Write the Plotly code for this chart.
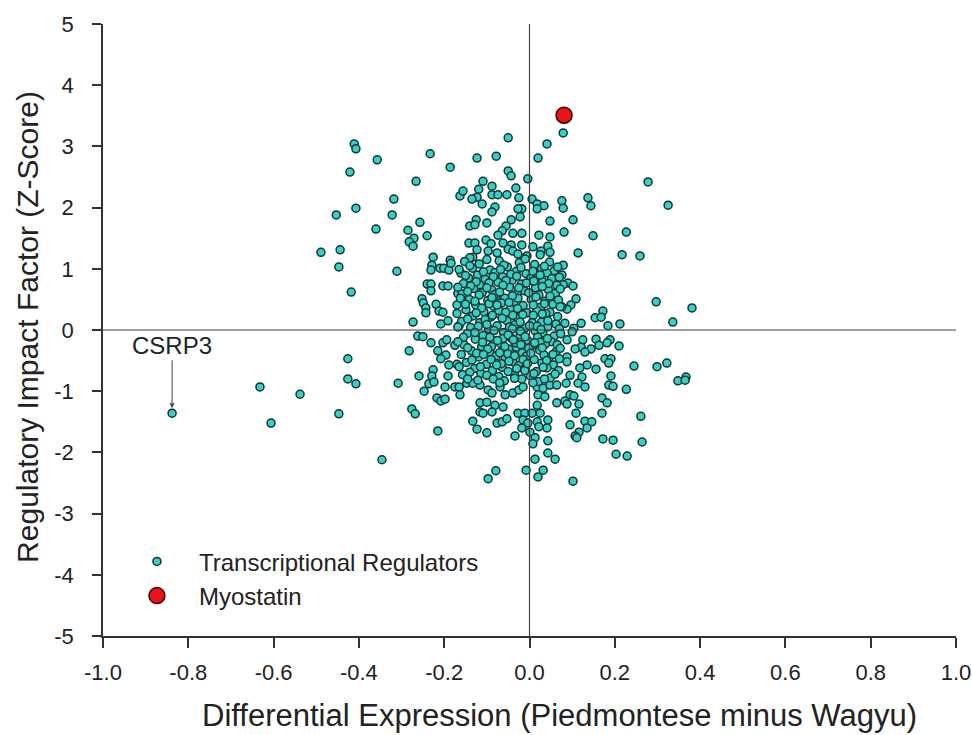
import plotly.graph_objects as go

# ---- data ----
# sparse / outer points
sparse_x = [
    -0.838, -0.632, -0.538, -0.606, -0.447, -0.426, -0.426, -0.407,
    -0.411, -0.407, -0.421, -0.407, -0.453, -0.489, -0.444, -0.447, -0.418,
    -0.357, -0.233, -0.186, -0.266, -0.318, -0.322, -0.360, -0.257, -0.285, -0.240,
    -0.271, -0.282, -0.273, -0.226, -0.186, -0.163,
    -0.050, -0.123, -0.078, 0.020, 0.041, -0.050, -0.043, -0.004, -0.109, -0.088,
    -0.156, -0.119, -0.032, -0.123, -0.135, -0.088, -0.074, -0.053, -0.025, -0.111,
    -0.018, -0.027, -0.081, -0.088, 0.006, 0.018, 0.034, 0.018, -0.022, -0.043,
    -0.125, -0.140, -0.100, -0.055, -0.128, 0.048, -0.064, -0.074, -0.039, -0.018,
    0.022, 0.048, -0.142, -0.128, -0.102, -0.090, -0.062, -0.043, -0.018, 0.008,
    0.027, 0.043, 0.048, -0.123, -0.097, -0.076, -0.050, -0.039, -0.027, -0.006,
    0.025, -0.133, -0.140,
    0.079, 0.278, 0.076, 0.079, 0.137, 0.144, 0.325, 0.102, 0.081, 0.149, 0.227,
    0.114, 0.217, 0.259,
    -0.311, -0.229, -0.231, -0.210, -0.201, -0.189, -0.184, -0.240, -0.231, -0.231,
    -0.203, -0.191, -0.168, -0.252, -0.249, -0.243, -0.243, -0.219, -0.212, -0.203,
    -0.170, -0.273, -0.208, -0.191, -0.165, -0.262, -0.250, -0.231, -0.203, -0.194,
    -0.175, -0.282, -0.215, -0.196, -0.208, -0.189, -0.170, -0.226, -0.229, -0.259,
    -0.191,
    0.079, 0.076, 0.090, 0.102, 0.079, 0.109, 0.097, 0.088, 0.076, 0.172, 0.154,
    0.168, 0.121, 0.083, 0.184, 0.212, 0.297, 0.381, 0.336, 0.104, 0.100, 0.088,
    0.125, 0.156, 0.189, 0.182, 0.163, 0.144, 0.121, 0.107, 0.210, 0.130, 0.088,
    0.088, 0.177, 0.191, 0.186, 0.135, 0.118, 0.156, 0.245, 0.299, 0.322, 0.367,
    0.348, 0.191, 0.095, 0.123,
    0.086, 0.114, 0.130, 0.186, 0.196, 0.227, 0.365, 0.095, 0.104, 0.083, 0.088,
    0.116, 0.170, 0.182, 0.109, 0.170, 0.261, 0.130, 0.146, 0.135, 0.095, 0.116,
    0.107, 0.111, 0.172, 0.196, 0.264, 0.203, 0.229, 0.102,
    -0.308, -0.247, -0.236, -0.224, -0.198, -0.175, -0.165, -0.163, -0.217, -0.208,
    -0.198, -0.276, -0.268, -0.215, -0.346,
    -0.116, -0.147, -0.133, -0.097, -0.088, -0.069, -0.057, -0.039, -0.025, -0.015,
    0.018, 0.032, 0.048, 0.064, 0.020, 0.036, -0.116, -0.100, -0.081, -0.062,
    0.018, 0.064, -0.116, -0.088, -0.109, -0.027, -0.011, 0.006, 0.025, -0.133,
    -0.076, -0.064, -0.053, -0.015, -0.004, 0.018, 0.043, 0.041, 0.022, -0.018,
    0.001, -0.123, -0.100, -0.034, 0.013, 0.008, 0.043, 0.043, 0.060, 0.013,
    -0.008, 0.032, 0.020, -0.079, -0.097,
]
sparse_y = [
    -1.36, -0.93, -1.05, -1.52, -1.37, -0.47, -0.80, -0.88,
    3.04, 2.96, 2.58, 1.99, 1.88, 1.27, 1.31, 1.03, 0.62,
    2.78, 2.88, 2.66, 2.43, 2.14, 1.88, 1.65, 1.76, 1.63, 1.54,
    1.50, 1.44, 1.37, 1.19, 1.14, 2.19,
    3.14, 2.81, 2.84, 2.81, 3.04, 2.60, 2.52, 2.47, 2.43, 2.35,
    2.27, 2.30, 2.32, 2.17, 2.14, 2.21, 2.21, 2.21, 2.16, 2.06,
    1.98, 1.98, 2.01, 1.93, 2.14, 2.06, 2.03, 1.98, 1.85, 1.80,
    1.80, 1.70, 1.75, 1.70, 1.72, 1.78, 1.62, 1.55, 1.58, 1.58,
    1.55, 1.52, 1.42, 1.42, 1.47, 1.41, 1.42, 1.39, 1.39, 1.36,
    1.29, 1.37, 1.27, 1.31, 1.29, 1.26, 1.32, 1.29, 1.24, 1.21,
    1.23, 1.19, 1.18,
    3.22, 2.42, 2.11, 1.99, 2.16, 2.03, 2.04, 1.80, 1.60, 1.54, 1.60,
    1.26, 1.23, 1.21,
    0.96, 1.06, 0.98, 1.01, 1.01, 0.98, 1.09, 0.75, 0.75, 0.64,
    0.72, 0.72, 0.60, 0.51, 0.44, 0.36, 0.28, 0.42, 0.31, 0.29,
    0.41, 0.13, 0.10, 0.15, 0.07, -0.10, -0.11, -0.21, -0.21, -0.16,
    -0.25, -0.34, -0.34, -0.41, -0.47, -0.57, -0.56, -0.65, -0.75, -0.75,
    -0.75,
    1.06, 0.90, 0.77, 0.72, 0.74, 0.51, 0.41, 0.34, 0.38, 0.31, 0.20,
    0.21, 0.11, 0.11, 0.07, 0.10, 0.46, 0.36, 0.13, 0.03, -0.03, -0.16,
    -0.16, -0.15, -0.16, -0.21, -0.25, -0.31, -0.28, -0.31, -0.26, -0.36, -0.44,
    -0.52, -0.47, -0.47, -0.54, -0.57, -0.62, -0.64, -0.59, -0.60, -0.54, -0.77,
    -0.83, -0.75, -0.74, -0.77,
    -0.87, -0.87, -0.93, -0.90, -0.92, -0.97, -0.82, -1.06, -1.08, -1.16, -1.21,
    -1.21, -1.11, -1.19, -1.36, -1.36, -1.41, -1.49, -1.50, -1.60, -1.55, -1.67,
    -1.73, -1.76, -1.78, -1.80, -1.83, -2.03, -2.06, -2.47,
    -0.87, -1.00, -0.88, -0.85, -0.93, -0.93, -0.93, -1.06, -1.11, -1.16,
    -1.13, -1.29, -1.37, -1.65, -2.12,
    -0.90, -0.87, -0.87, -0.98, -1.03, -0.93, -1.06, -1.03, -0.98, -0.93,
    -0.93, -0.95, -0.90, -0.90, -1.06, -1.09, -1.19, -1.18, -1.23, -1.26,
    -1.23, -1.19, -1.34, -1.34, -1.36, -1.36, -1.36, -1.36, -1.36, -1.49,
    -1.52, -1.50, -1.45, -1.47, -1.52, -1.50, -1.47, -1.60, -1.58, -1.60,
    -1.67, -1.62, -1.68, -1.73, -1.76, -1.86, -1.81, -2.01, -2.11, -2.11,
    -2.29, -2.29, -2.40, -2.30, -2.43,
]

# dense core of the cloud (estimated)
core_x = [
    -0.152, -0.118, -0.071, -0.024, 0.012, 0.047,
    -0.134, -0.093, -0.052, -0.031, 0.028, 0.058,
    -0.161, -0.122, -0.081, -0.008, 0.019, 0.041,
    -0.143, -0.104, -0.063, -0.041, 0.003, 0.052,
    -0.155, -0.117, -0.074, -0.019, 0.031, 0.064,
    -0.131, -0.089, -0.047, -0.012, 0.014, 0.044,
    -0.158, -0.111, -0.079, -0.029, 0.022, 0.061,
    -0.141, -0.098, -0.058, -0.036, 0.004, 0.036,
    -0.126, -0.084, -0.066, -0.015, 0.026, 0.055,
    -0.149, -0.107, -0.045, -0.006, 0.017, 0.048,
    -0.133, -0.091, -0.071, -0.027, 0.009, 0.039,
    -0.159, -0.117, -0.053, -0.034, 0.028, 0.062,
    -0.138, -0.096, -0.076, -0.011, 0.013, 0.043,
    -0.146, -0.109, -0.061, -0.022, 0.031, 0.058,
    -0.127, -0.083, -0.043, -0.004, 0.019, 0.051,
    -0.154, -0.112, -0.068, -0.031, 0.007, 0.037,
    -0.136, -0.093, -0.049, -0.017, 0.024, 0.063,
    -0.119, -0.078, -0.057, -0.008, 0.011, 0.046,
    -0.148, -0.101, -0.039, -0.025, 0.029, 0.056,
    -0.129, -0.087, -0.064, -0.013, 0.016, 0.041,
    -0.157, -0.114, -0.072, -0.035, 0.002, 0.049,
    -0.121, -0.059, -0.018, 0.021,
    -0.047, -0.021, 0.006, -0.062, -0.033, -0.002, 0.018, -0.072, -0.039, -0.015,
    0.034, -0.051, -0.089, -0.104, -0.027, 0.009, -0.066, -0.011, 0.038, -0.082,
    -0.007, -0.044, -0.124, -0.095, 0.025,
]
core_y = [
    1.12, 1.08, 1.13, 1.10, 1.07, 1.11,
    1.01, 0.98, 1.03, 0.96, 1.00, 0.97,
    0.93, 0.90, 0.94, 0.92, 0.88, 0.93,
    0.85, 0.83, 0.87, 0.81, 0.85, 0.84,
    0.76, 0.74, 0.78, 0.75, 0.79, 0.73,
    0.68, 0.66, 0.70, 0.64, 0.69, 0.66,
    0.59, 0.61, 0.56, 0.60, 0.57, 0.60,
    0.50, 0.48, 0.52, 0.46, 0.50, 0.47,
    0.41, 0.39, 0.44, 0.40, 0.37, 0.42,
    0.33, 0.30, 0.34, 0.28, 0.32, 0.29,
    0.23, 0.21, 0.26, 0.20, 0.24, 0.19,
    0.14, 0.12, 0.15, 0.09, 0.13, 0.10,
    0.04, 0.02, 0.07, 0.03, -0.01, 0.05,
    -0.06, -0.09, -0.04, -0.08, -0.05, -0.10,
    -0.15, -0.18, -0.13, -0.17, -0.12, -0.19,
    -0.24, -0.27, -0.22, -0.28, -0.25, -0.23,
    -0.34, -0.36, -0.31, -0.37, -0.33, -0.35,
    -0.44, -0.42, -0.47, -0.43, -0.48, -0.45,
    -0.53, -0.56, -0.52, -0.58, -0.54, -0.57,
    -0.63, -0.66, -0.61, -0.64, -0.68, -0.62,
    -0.73, -0.71, -0.76, -0.72, -0.75, -0.78,
    -0.82, -0.83, -0.80, -0.84,
    0.05, -0.02, 0.12, -0.14, -0.21, -0.30, 0.06, 0.32, 0.24, -0.48,
    -0.41, -0.39, -0.27, 0.17, 0.52, 0.41, -0.55, -0.66, 0.27, 0.58,
    0.77, 0.91, -0.38, 0.43, -0.20,
]

# second layer of the dense core (estimated)
core2_x = [
    -0.140, -0.100, -0.060, -0.010, 0.035,
    -0.165, -0.108, -0.068, -0.020, 0.008, 0.066,
    -0.150, -0.085, -0.030, 0.025, 0.070,
    -0.125, -0.095, -0.055, 0.010, 0.045,
    -0.168, -0.138, -0.100, -0.062, -0.025, 0.030, 0.072,
    -0.145, -0.118, -0.070, -0.040, -0.002, 0.048,
    -0.162, -0.128, -0.088, -0.048, 0.015, 0.068,
    -0.150, -0.112, -0.076, -0.028, 0.035, 0.072,
    -0.170, -0.125, -0.087, -0.056, -0.016, 0.030, 0.066,
    -0.145, -0.100, -0.064, -0.022, 0.043,
    -0.168, -0.120, -0.083, -0.040, 0.000, 0.027, 0.070,
    -0.155, -0.128, -0.093, -0.050, -0.010, 0.042, 0.073,
    -0.168, -0.110, -0.075, -0.038, 0.012, 0.065,
    -0.145, -0.098, -0.058, -0.020, 0.030, 0.072,
    -0.160, -0.108, -0.070, -0.035, 0.003, 0.055,
    -0.135, -0.090, -0.048, -0.005, 0.040, 0.070,
    -0.165, -0.115, -0.077, -0.030, 0.032, 0.068,
    -0.140, -0.100, -0.050, 0.010, 0.060,
    -0.145, -0.085, -0.035, 0.035, 0.008, -0.070,
]
core2_y = [
    1.05, 1.15, 1.06, 1.16, 1.04,
    0.99, 0.95, 0.99, 1.02, 0.96, 1.03,
    0.89, 0.87, 0.88, 0.90, 0.86,
    0.79, 0.77, 0.81, 0.80, 0.76,
    0.70, 0.72, 0.69, 0.73, 0.69, 0.71, 0.67,
    0.63, 0.57, 0.62, 0.56, 0.61, 0.55,
    0.52, 0.47, 0.53, 0.45, 0.54, 0.49,
    0.42, 0.36, 0.41, 0.35, 0.43, 0.38,
    0.27, 0.28, 0.24, 0.29, 0.25, 0.26, 0.22,
    0.18, 0.09, 0.19, 0.13, 0.15,
    0.05, 0.06, -0.01, 0.02, 0.07, 0.01, 0.02,
    -0.12, -0.04, -0.12, -0.08, -0.11, -0.14, -0.06,
    -0.19, -0.20, -0.17, -0.16, -0.21, -0.24,
    -0.29, -0.31, -0.27, -0.24, -0.29, -0.30,
    -0.40, -0.40, -0.37, -0.42, -0.38, -0.40,
    -0.49, -0.48, -0.51, -0.55, -0.50, -0.47,
    -0.60, -0.60, -0.57, -0.63, -0.61, -0.66,
    -0.69, -0.74, -0.68, -0.71, -0.72,
    -0.80, -0.80, -0.79, -0.80, -0.86, -0.86,
]

reg_x = sparse_x + core_x + core2_x
reg_y = sparse_y + core_y + core2_y

myostatin_x = [0.081]
myostatin_y = [3.51]

csrp3_x = -0.838
csrp3_y = -1.36

x_tickvals = [-1.0, -0.8, -0.6, -0.4, -0.2, 0.0, 0.2, 0.4, 0.6, 0.8, 1.0]
x_ticktext = ["-1.0", "-0.8", "-0.6", "-0.4", "-0.2", "0.0", "0.2", "0.4", "0.6", "0.8", "1.0"]
y_tickvals = [-5, -4, -3, -2, -1, 0, 1, 2, 3, 4, 5]
y_ticktext = ["-5", "-4", "-3", "-2", "-1", "0", "1", "2", "3", "4", "5"]

x_title = "Differential Expression (Piedmontese minus Wagyu)"
y_title = "Regulatory Impact Factor (Z-Score)"

FONT = "Liberation Sans, Arial, sans-serif"
TXT = "#222222"

fig = go.Figure()
fig.add_trace(go.Scatter(
    x=reg_x, y=reg_y, mode="markers", name="Transcriptional Regulators",
    marker=dict(size=8, color="#36d0c4", line=dict(color="#0f3434", width=1.5)),
))
fig.add_trace(go.Scatter(
    x=myostatin_x, y=myostatin_y, mode="markers", name="Myostatin",
    marker=dict(size=16, color="#e8141c", line=dict(color="#4a0000", width=1.5)),
))

# cross-hair lines through the origin
fig.add_shape(type="line", xref="x", yref="paper", x0=0, x1=0, y0=0, y1=1,
              line=dict(color="#444444", width=1.2), layer="above")
fig.add_shape(type="line", xref="paper", yref="y", x0=0, x1=1, y0=0, y1=0,
              line=dict(color="#444444", width=1.2), layer="above")

fig.add_annotation(x=csrp3_x, y=csrp3_y, text="CSRP3", showarrow=True,
                   ax=0, ay=-68, arrowhead=2, arrowsize=1, arrowwidth=1,
                   arrowcolor="#444444", standoff=5,
                   font=dict(family=FONT, size=24, color=TXT))

# axis titles
fig.add_annotation(xref="paper", yref="paper", x=0.535, y=-0.130,
                   xanchor="center", yanchor="middle", showarrow=False,
                   text=x_title, font=dict(family=FONT, size=31, color=TXT))
fig.add_annotation(xref="paper", yref="paper", x=-0.088, y=0.505,
                   xanchor="center", yanchor="middle", showarrow=False,
                   textangle=-90, text=y_title,
                   font=dict(family=FONT, size=30, color=TXT))

fig.update_layout(
    width=972, height=735,
    paper_bgcolor="white", plot_bgcolor="white",
    margin=dict(l=103, r=16, t=24, b=99),
    font=dict(family=FONT, color=TXT),
    showlegend=True,
    legend=dict(x=0.014, y=0.158, xanchor="left", yanchor="top",
                bgcolor="rgba(0,0,0,0)", itemwidth=74, itemsizing="trace",
                font=dict(family=FONT, size=24, color=TXT),
                tracegroupgap=0),
    xaxis=dict(range=[-1, 1], tickvals=x_tickvals, ticktext=x_ticktext,
               automargin=False,
               showgrid=False, zeroline=False, showline=True,
               linecolor="#333333", linewidth=1.5, ticks="outside",
               ticklen=10, tickwidth=1.5, tickcolor="#333333",
               ticklabelstandoff=6,
               tickfont=dict(family=FONT, size=22, color=TXT)),
    yaxis=dict(range=[-5, 5], tickvals=y_tickvals, ticktext=y_ticktext,
               automargin=False,
               showgrid=False, zeroline=False, showline=True,
               linecolor="#333333", linewidth=1.5, ticks="outside",
               ticklen=9, tickwidth=1.5, tickcolor="#333333",
               ticklabelstandoff=14,
               tickfont=dict(family=FONT, size=22, color=TXT)),
)

# remove the default 8 px page margin so the figure fills the window exactly
fig.write_html("out.html",
               config={"displayModeBar": False},
               post_script="document.body.style.margin='0';"
                           "document.body.style.overflow='hidden';")
